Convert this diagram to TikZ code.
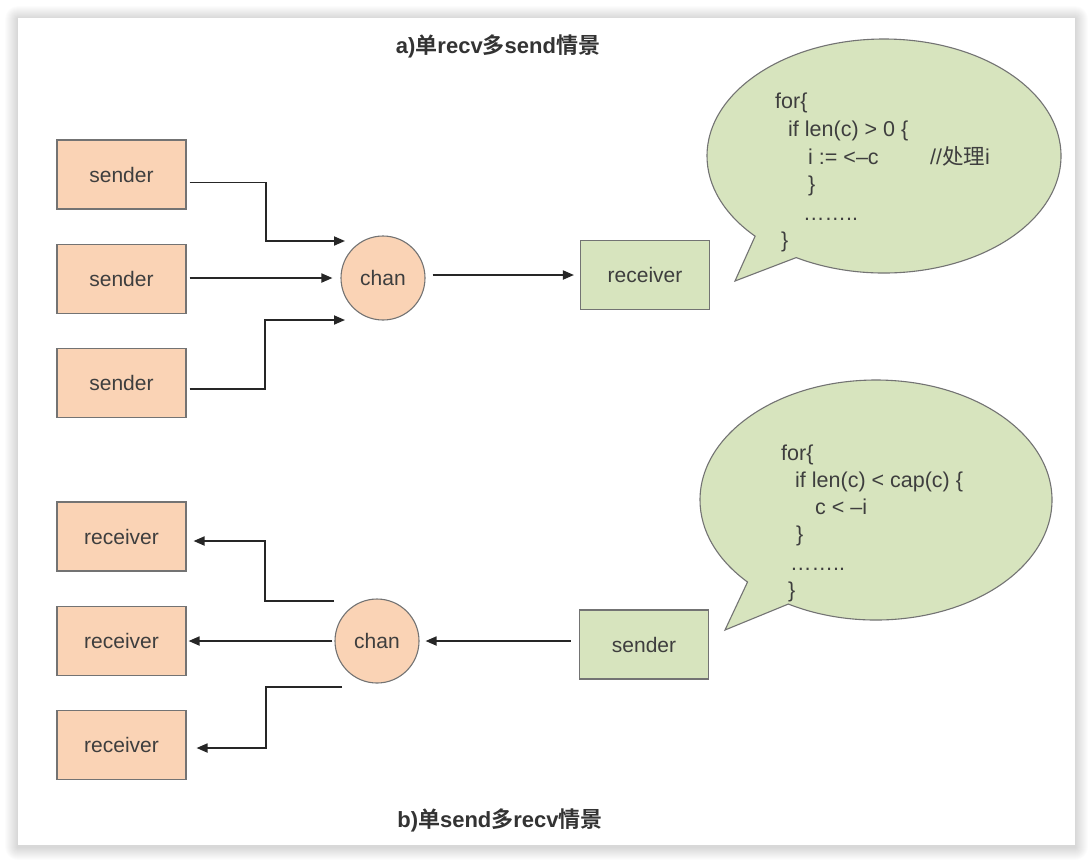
\documentclass[tikz,border=0pt]{standalone}
\usepackage{fontspec}
\setmainfont{Liberation Sans}
\newfontfamily\cjk{Noto Sans CJK SC}[BoldFont=Noto Sans CJK SC Bold]
\newcommand\hanzi[1]{{\cjk #1}}
\usetikzlibrary{arrows.meta}
\usetikzlibrary{shapes.callouts}
\usetikzlibrary{positioning}

\definecolor{peach}{RGB}{250,211,181}
\definecolor{leaf}{RGB}{215,228,190}
\definecolor{ink}{RGB}{62,62,62}
\definecolor{rim}{RGB}{115,115,115}

\tikzset{
  box/.style={draw=rim, line width=1.1pt, minimum width=129pt, minimum height=69pt,
              inner sep=0pt, text=ink, font=\fontsize{21}{25}\selectfont},
  peachbox/.style={box, fill=peach},
  leafbox/.style={box, fill=leaf},
  chanball/.style={circle, draw=rim, line width=1.1pt, fill=peach, minimum size=84pt,
                   inner sep=0pt, text=ink, font=\fontsize{21}{25}\selectfont},
  flow/.style={draw=black!85, line width=1.8pt, -{Triangle[length=11pt,width=9pt]}},
  bubble/.style={ellipse callout, draw=rim, line width=1.1pt, fill=leaf, inner sep=0pt,
                 callout pointer arc=17},
  codeline/.style={anchor=base west, inner sep=0pt, text=ink, font=\fontsize{21.5}{26}\selectfont},
  heading/.style={inner sep=0pt, text=black!80, font=\bfseries\fontsize{22}{26}\selectfont},
}

\begin{document}
\begin{tikzpicture}[x=1pt,y=-1pt]
  \useasboundingbox (0,0) rectangle (1091,863);
  \fill[white] (0,0) rectangle (1091,863);
  % card with soft shadow
  \foreach \k in {1,...,13}
    \fill[black, opacity=0.011, rounded corners=\k pt] (18-\k,18-\k+1) rectangle (1075+\k,845+\k+2);
  \fill[white] (18,18) rectangle (1075,845);

  % a) one receiver, many senders
  \node[heading] (titleA) at (498,46) {a)\hanzi{单}recv\hanzi{多}send\hanzi{情景}};
  \node[peachbox] (s1) at (121.5,174.5) {sender};
  \node[peachbox, below=34pt of s1] (s2) {sender};
  \node[peachbox, below=34pt of s2] (s3) {sender};
  \node[chanball] (chanA) at (383,278) {chan};
  \node[leafbox] (recvA) at (645,275) {receiver};
  \node[bubble, minimum width=354pt, minimum height=234pt,
        callout absolute pointer={(735,281)}] (talkA) at (884,156) {};

  \coordinate (inA1) at (345,241);
  \coordinate (inA3) at (345,320);
  \draw[flow] ([xshift=3pt,yshift=-8pt]s1.east) -| (266,241) -- (inA1);
  \draw[flow] ([xshift=3pt]s2.east |- chanA.west) -- ([xshift=-8pt]chanA.west);
  \draw[flow] ([xshift=3pt,yshift=-6pt]s3.east) -| (265,320) -- (inA3);
  \draw[flow] ([xshift=7pt,yshift=3pt]chanA.east) -- ([xshift=-6pt]recvA.west);

  \node[codeline] (ca1) at (775,108) {for\{};
  \node[codeline] (ca2) at (788,136) {if len(c) > 0 \{};
  \node[codeline] (ca3) at (808,164) {i := <–c};
  \node[codeline] (ca3b) at (930,164) {//\hanzi{处理}i};
  \node[codeline] (ca4) at (808,191) {\}};
  \node[codeline] (ca5) at (803,220) {……..};
  \node[codeline] (ca6) at (781,247) {\}};

  % b) one sender, many receivers
  \node[heading] (titleB) at (500,820) {b)\hanzi{单}send\hanzi{多}recv\hanzi{情景}};
  \node[peachbox] (r1) at (121.5,536.5) {receiver};
  \node[peachbox, below=34pt of r1] (r2) {receiver};
  \node[peachbox, below=34pt of r2] (r3) {receiver};
  \node[chanball] (chanB) at (377,641) {chan};
  \node[leafbox] (sendB) at (644,644.5) {sender};
  \node[bubble, minimum width=352pt, minimum height=240pt,
        callout absolute pointer={(725,630)}] (talkB) at (876,500) {};

  \coordinate (outB1) at (334,601);
  \coordinate (outB3) at (342,687);
  \draw[flow] ([xshift=-8pt]sendB.west |- chanB.east) -- ([xshift=6pt]chanB.east);
  \draw[flow] (outB1) -| (265,541) -- ([xshift=7pt]r1.east |- 0,541);
  \draw[flow] ([xshift=-2pt]chanB.west) -- ([xshift=2pt]r2.east |- chanB.west);
  \draw[flow] (outB3) -| (266,748) -- ([xshift=10pt]r3.east |- 0,748);

  \node[codeline] (cb1) at (781,460) {for\{};
  \node[codeline] (cb2) at (795,487) {if len(c) < cap(c) \{};
  \node[codeline] (cb3) at (815,514) {c < –i};
  \node[codeline] (cb4) at (796,541) {\}};
  \node[codeline] (cb5) at (790,570) {……..};
  \node[codeline] (cb6) at (788,597) {\}};
\end{tikzpicture}
\end{document}
